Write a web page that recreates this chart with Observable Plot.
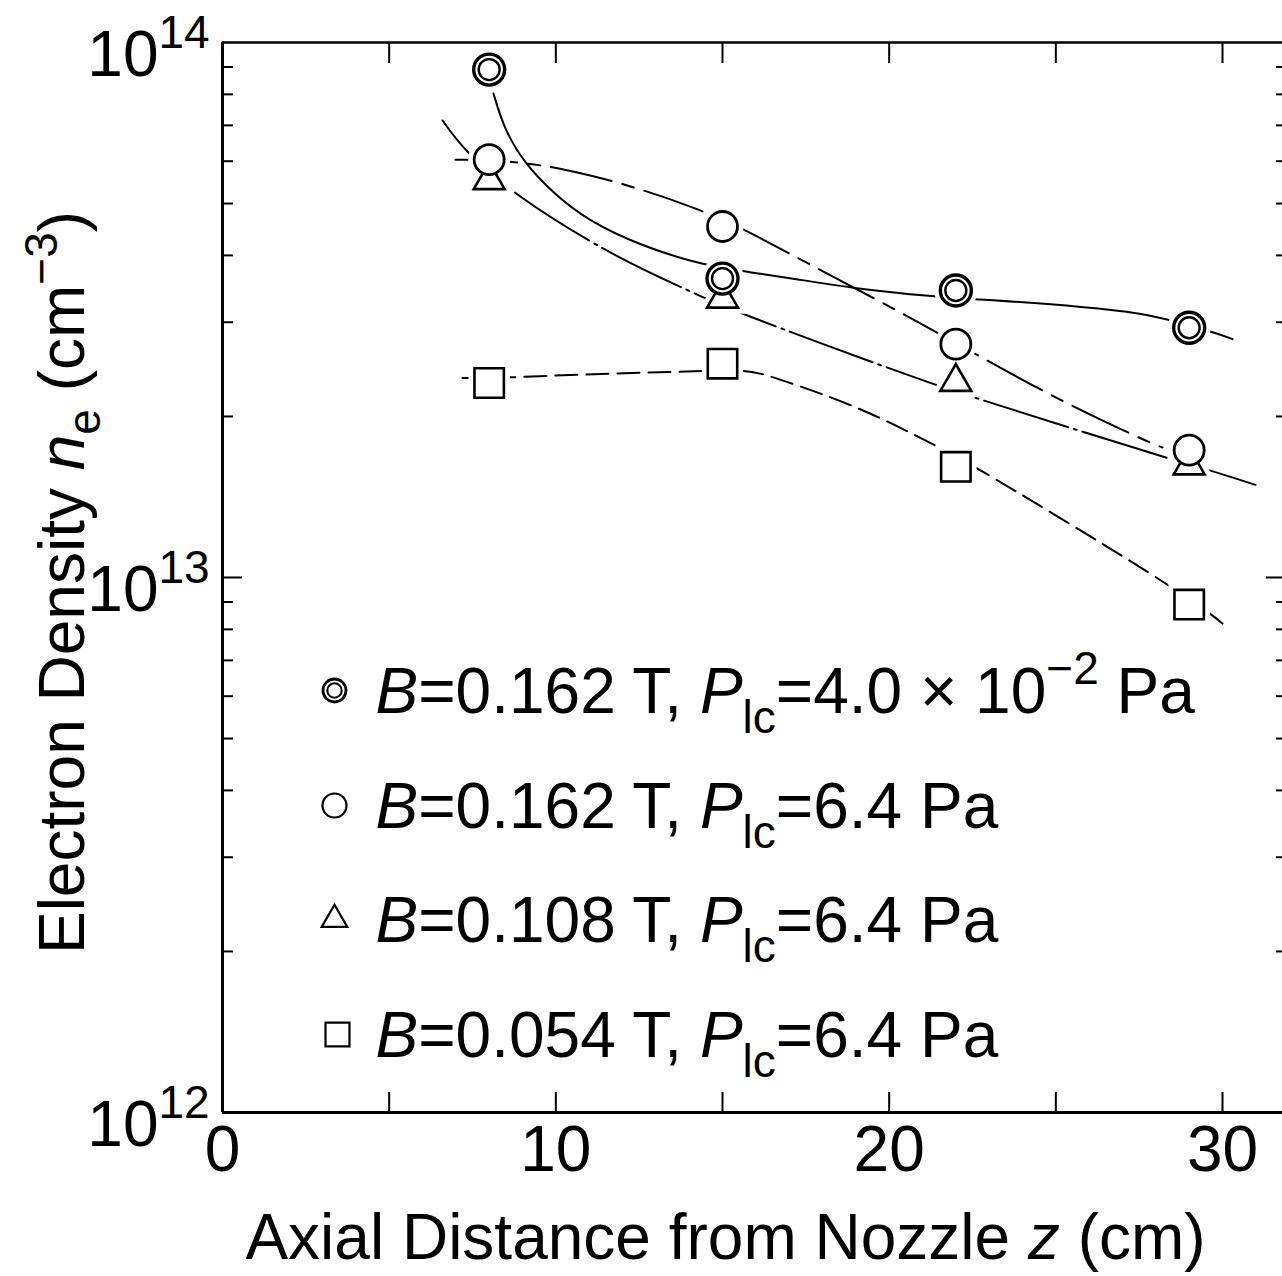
<!DOCTYPE html>
<html>
<head>
<meta charset="utf-8">
<script src="https://cdn.jsdelivr.net/npm/d3@7"></script>
<script src="https://cdn.jsdelivr.net/npm/@observablehq/plot@0.6"></script>
<style>
html, body { margin: 0; padding: 0; background: #fff; }
svg { display: block; }
</style>
</head>
<body>
<div id="chart"></div>
<script>
const FONT = '"Liberation Sans", Arial, Helvetica, sans-serif';

// ---- measured points (z in cm, n_e in cm^-3) ----
const positions = [8, 15, 22, 29];
const densDouble = [8.90e13, 3.62e13, 3.44e13, 2.93e13]; // B=0.162 T, P=4.0e-2 Pa
const densOpen   = [6.04e13, 4.53e13, 2.73e13, 1.73e13]; // B=0.162 T, P=6.4 Pa
const densTri    = [5.53e13, 3.32e13, 2.32e13, 1.62e13]; // B=0.108 T, P=6.4 Pa
const densSquare = [2.31e13, 2.51e13, 1.61e13, 8.90e12]; // B=0.054 T, P=6.4 Pa

// ---- hand-drawn guide curves: [z, n_e] ----
const curveDouble = [
  [8.13, 8.03e13], [8.43, 6.94e13], [9.03, 5.97e13], [9.93, 5.22e13],
  [10.95, 4.65e13], [12.54, 4.17e13], [14.43, 3.83e13], [15.84, 3.72e13],
  [17.13, 3.62e13], [18.93, 3.47e13], [21.33, 3.35e13], [22.83, 3.31e13],
  [26.04, 3.20e13], [27.54, 3.12e13], [28.53, 3.02e13], [29.85, 2.86e13],
  [30.3, 2.79e13]
];
const curveOpen = [
  [6.99, 6.04e13], [8.58, 6.02e13], [10.44, 5.79e13], [12.54, 5.33e13],
  [14.25, 4.89e13], [15.63, 4.49e13], [17.94, 3.75e13], [20.7, 3.05e13],
  [22.8, 2.57e13], [25.14, 2.14e13], [27.69, 1.80e13], [28.2, 1.75e13]
];
const curveTri = [
  [6.6, 7.15e13], [7.29, 6.23e13], [8.79, 5.18e13], [11.1, 4.21e13],
  [12.54, 3.78e13], [14.49, 3.32e13], [15.54, 3.12e13], [17.94, 2.74e13],
  [21.45, 2.28e13], [23.28, 2.10e13], [25.95, 1.86e13], [28.35, 1.67e13],
  [29.58, 1.59e13], [30.99, 1.49e13]
];
const curveSquare = [
  [7.2, 2.36e13], [8.49, 2.36e13], [10.83, 2.40e13], [13.5, 2.42e13],
  [15.54, 2.45e13], [16.14, 2.41e13], [17.04, 2.31e13], [18.84, 2.11e13],
  [20.55, 1.88e13], [22.53, 1.62e13], [25.14, 1.29e13], [27.84, 1.02e13],
  [29.64, 8.57e12], [30.0, 8.20e12]
];

// ---- axes ----
const xTicks = [0, 5, 10, 15, 20, 25, 30];
const xTickLabels = [0, 10, 20, 30];
const yMajor = [1e13];
const yMinor = [2e12, 3e12, 4e12, 5e12, 6e12, 7e12, 8e12, 9e12,
                2e13, 3e13, 4e13, 5e13, 6e13, 7e13, 8e13, 9e13];
const yTickLabels = [1e12, 1e13, 1e14];

// ---- texts (rich parts: [string, style]) ----
const legendParts = [
  [["B", "i"], ["=0.162 T, "], ["P", "i"], ["lc", "sub"], ["=4.0 \u00d7 10"], ["\u22122", "sup"], [" Pa"]],
  [["B", "i"], ["=0.162 T, "], ["P", "i"], ["lc", "sub"], ["=6.4 Pa"]],
  [["B", "i"], ["=0.108 T, "], ["P", "i"], ["lc", "sub"], ["=6.4 Pa"]],
  [["B", "i"], ["=0.054 T, "], ["P", "i"], ["lc", "sub"], ["=6.4 Pa"]]
];
const legendSymbols = ["double", "circle", "triangle", "square"];
const xTitleParts = [["Axial Distance from Nozzle "], ["z", "i"], [" (cm)"]];
const yTitleParts = [["Electron Density "], ["n", "i"], ["e", "sub"], [" (cm"], ["\u22123", "sup"], [")"]];

// ---- layout ----
const W = 1282, H = 1276;
const mL = 222, mR = 0, mT = 42, mB = 164;
const innerW = W - mL - mR, innerH = H - mT - mB;

const pts = (arr) => positions.map((z, i) => ({z, n: arr[i]}));
const sDouble = pts(densDouble), sOpen = pts(densOpen), sTri = pts(densTri), sSquare = pts(densSquare);
const plain = (parts) => parts.map(p => p[0]).join("");

const R = {circle: 15, dblOuter: 15.5, dblInner: 10.5, tri: 11.5, square: 16.6};
const xy = {x: "z", y: "n"};

const marks = [];
// guide curves
const cxy = {x: d => d[0], y: d => d[1], curve: "basis", stroke: "black", strokeWidth: 2};
marks.push(Plot.line(curveDouble, {...cxy}));
marks.push(Plot.line(curveOpen, {...cxy, strokeDasharray: "62,11,12,11"}));
marks.push(Plot.line(curveTri, {...cxy, strokeDasharray: "88,6,3,6"}));
marks.push(Plot.line(curveSquare, {...cxy, strokeDasharray: "22,9"}));
// halos that open gaps in the curves around markers
const halo = {fill: "white", stroke: "white", strokeWidth: 12};
marks.push(Plot.dot(sTri, {...xy, symbol: "triangle", r: R.tri, ...halo}));
marks.push(Plot.dot(sSquare, {...xy, symbol: "square", r: R.square, ...halo}));
marks.push(Plot.dot(sOpen, {...xy, r: R.circle, ...halo}));
marks.push(Plot.dot(sDouble, {...xy, r: R.dblOuter, ...halo}));
// markers
marks.push(Plot.dot(sTri, {...xy, symbol: "triangle", r: R.tri, fill: "white", stroke: "black", strokeWidth: 2.6}));
marks.push(Plot.dot(sSquare, {...xy, symbol: "square", r: R.square, fill: "white", stroke: "black", strokeWidth: 2.6}));
marks.push(Plot.dot(sOpen, {...xy, r: R.circle, fill: "white", stroke: "black", strokeWidth: 2.8}));
marks.push(Plot.dot(sDouble, {...xy, r: R.dblOuter, fill: "white", stroke: "black", strokeWidth: 3.4}));
marks.push(Plot.dot(sDouble, {...xy, r: R.dblInner, fill: "none", stroke: "black", strokeWidth: 2.4}));

// frame (left, bottom, top)
marks.push(Plot.ruleY([1e14], {strokeWidth: 2.5}));
marks.push(Plot.ruleY([1e12], {strokeWidth: 3}));
marks.push(Plot.ruleX([0], {strokeWidth: 3}));
// ticks (inward)
marks.push(Plot.tickX(xTicks, {x: d => d, insetTop: innerH - 20, strokeWidth: 2}));
marks.push(Plot.tickX(xTicks, {x: d => d, insetBottom: innerH - 21, strokeWidth: 2}));
marks.push(Plot.tickY(yMinor, {y: d => d, insetRight: innerW - 11, strokeWidth: 2}));
marks.push(Plot.tickY(yMajor, {y: d => d, insetRight: innerW - 20, strokeWidth: 2}));
marks.push(Plot.tickY(yMinor, {y: d => d, insetLeft: innerW - 6, strokeWidth: 2}));
marks.push(Plot.tickY(yMajor, {y: d => d, insetLeft: innerW - 16, strokeWidth: 2}));
// tick labels
const tf = {fontFamily: FONT, fill: "black", lineAnchor: "bottom"};
marks.push(Plot.text(xTickLabels, {...tf, x: d => d, frameAnchor: "bottom", dy: 58, text: d => String(d), fontSize: 64}));
marks.push(Plot.text(yTickLabels, {...tf, y: d => d, frameAnchor: "left", dx: -64, dy: 33, textAnchor: "end", text: () => "10", fontSize: 64}));
marks.push(Plot.text(yTickLabels, {...tf, y: d => d, frameAnchor: "left", dx: -64, dy: 5, textAnchor: "start", text: d => String(Math.round(Math.log10(d))), fontSize: 46}));
// axis titles
marks.push(Plot.text([plain(xTitleParts)], {...tf, frameAnchor: "bottom", dx: -27, dy: 146, textAnchor: "middle", fontSize: 64}));
marks.push(Plot.text([plain(yTitleParts)], {...tf, frameAnchor: "left", rotate: -90, dx: -139, dy: 5, textAnchor: "middle", fontSize: 64}));

// legend
const rowBase = [670, 785, 899, 1014];
legendParts.forEach((parts, i) => {
  const cy = rowBase[i] - 22;
  const sym = legendSymbols[i];
  const base = {frameAnchor: "top-left", dx: 112, dy: cy, fill: "white", stroke: "black"};
  if (sym === "double") {
    marks.push(Plot.dot([0], {...base, r: 11.5, strokeWidth: 2.8}));
    marks.push(Plot.dot([0], {...base, r: 7.2, fill: "none", strokeWidth: 2}));
  } else if (sym === "circle") {
    marks.push(Plot.dot([0], {...base, r: 12, strokeWidth: 2.2}));
  } else if (sym === "triangle") {
    marks.push(Plot.dot([0], {...base, symbol: "triangle", r: 9.5, strokeWidth: 2.2}));
  } else {
    marks.push(Plot.dot([0], {...base, dx: 115, symbol: "square", r: 13.5, strokeWidth: 2.2}));
  }
  marks.push(Plot.text([plain(parts)], {...tf, frameAnchor: "top-left", dx: 153, dy: rowBase[i], textAnchor: "start", fontSize: 64}));
});

const chart = Plot.plot({
  width: W, height: H,
  marginLeft: mL, marginRight: mR, marginTop: mT, marginBottom: mB,
  style: {fontFamily: FONT, background: "white", overflow: "visible"},
  x: {domain: [0, innerW / (1000 / 30)], axis: null},
  y: {type: "log", domain: [1e12, 1e14], axis: null},
  marks
});
document.getElementById("chart").appendChild(chart);

// ---- rich text (italic, sub/superscripts) ----
const NS = "http://www.w3.org/2000/svg";
function richify(el, parts, opt) {
  while (el.firstChild) el.removeChild(el.firstChild);
  let shift = 0;
  for (const [s, st] of parts) {
    const ts = document.createElementNS(NS, "tspan");
    ts.textContent = s;
    let target = 0;
    if (st === "sub") { ts.setAttribute("font-size", opt.subSize); target = opt.subShift; }
    else if (st === "sup") { ts.setAttribute("font-size", opt.supSize); target = -opt.supShift; }
    else if (st === "i") { ts.setAttribute("font-style", "italic"); }
    const dy = target - shift;
    if (dy) ts.setAttribute("dy", dy);
    shift = target;
    el.appendChild(ts);
  }
}
const allText = Array.from(chart.querySelectorAll("text"));
function applyRich(parts, opt) {
  const s = plain(parts);
  const el = allText.find(t => t.textContent === s);
  if (el) richify(el, parts, opt);
}
legendParts.forEach(p => applyRich(p, {subSize: 46, subShift: 20, supSize: 46, supShift: 29}));
applyRich(xTitleParts, {subSize: 46, subShift: 18, supSize: 46, supShift: 28});
applyRich(yTitleParts, {subSize: 46, subShift: 16, supSize: 46, supShift: 27});
</script>
</body>
</html>
